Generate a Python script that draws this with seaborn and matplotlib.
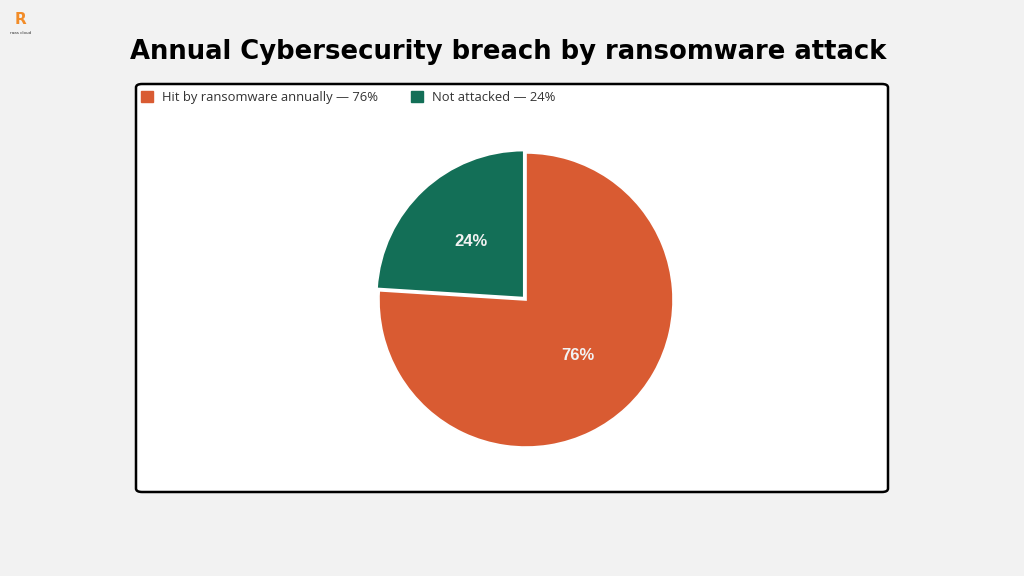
import matplotlib
matplotlib.use("Agg")
import matplotlib.pyplot as plt
import seaborn as sns
from matplotlib.patches import FancyBboxPatch, Patch

# Data
categories = ["Hit by ransomware annually", "Not attacked"]
values = [76, 24]
legend_labels = ["Hit by ransomware annually \u2014 76%", "Not attacked \u2014 24%"]
colors = ["#D95B32", "#136F57"]
title = "Annual Cybersecurity breach by ransomware attack"

sns.set_theme(style="white")
plt.rcParams['font.family'] = ['DejaVu Sans']

fig = plt.figure(figsize=(10.24, 5.76), dpi=100)
fig.patch.set_facecolor("#F2F2F2")

W, H = 1024, 576
# white panel with rounded black border
panel = FancyBboxPatch((136 / W, 1 - 492 / H), (888 - 136) / W, (492 - 84) / H,
                       boxstyle="round,pad=0,rounding_size=0.006",
                       transform=fig.transFigure, facecolor="white",
                       edgecolor="black", linewidth=1.8, zorder=-10)
fig.patches.append(panel)

# title
fig.text(508 / W, 1 - 52 / H, title, ha="center", va="center",
         fontsize=18.6, fontweight="heavy", color="black")

# logo approximation
fig.text(21 / W, 1 - 19 / H, "R", ha="center", va="center", fontsize=11,
         fontweight="bold", color="#F28C28")
fig.text(21 / W, 1 - 33 / H, "raas cloud", ha="center", va="center",
         fontsize=3, color="#333333")

# pie axes
size = 300
ax = fig.add_axes([(526 - size / 2) / W, (576 - 300 - size / 2) / H, size / W, size / H],
                  zorder=5)
ax.patch.set_alpha(0)
wedges, texts, autotexts = ax.pie(
    values, colors=colors, startangle=90, counterclock=False,
    explode=[0, 0.022], autopct=lambda p: f"{p:.0f}%", pctdistance=0.52,
    wedgeprops=dict(edgecolor="white", linewidth=1.2),
    textprops=dict(color="#F2F2F2", fontsize=12, fontweight="bold",
                   family=["Liberation Sans", "DejaVu Sans"]))
ax.set_xlim(-1.02, 1.02)
ax.set_ylim(-1.02, 1.02)
ax.set_aspect("equal")
ax.axis("off")

handles = [Patch(facecolor=c, edgecolor=c) for c in colors]
fig.legend(handles, legend_labels, loc="upper left",
           bbox_to_anchor=(136 / W, 1 - 86 / H), ncol=2, frameon=False,
           handlelength=0.9, handleheight=0.9, handletextpad=0.7,
           columnspacing=2.55, borderaxespad=0,
           prop=dict(family=["Open Sans", "DejaVu Sans"], size=9.4),
           labelcolor="#333333")

fig.savefig("out.png", dpi=100, facecolor=fig.get_facecolor())
